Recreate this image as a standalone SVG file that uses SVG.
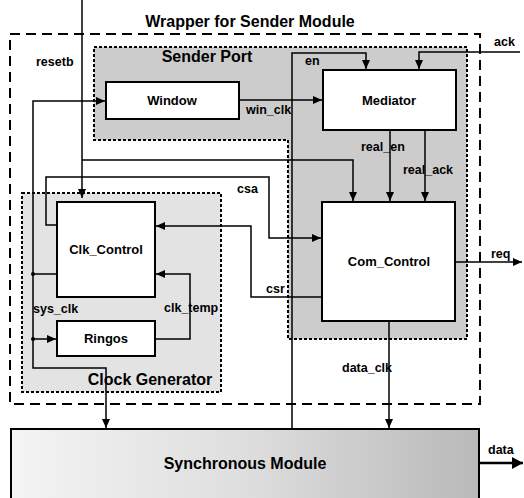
<svg xmlns="http://www.w3.org/2000/svg" width="524" height="498" viewBox="0 0 524 498">
<defs>
<marker id="ah" markerUnits="userSpaceOnUse" markerWidth="10" markerHeight="9" refX="9" refY="4" orient="auto">
<path d="M0,0 L9,4 L0,8 z" fill="#000"/>
</marker>
<marker id="ahb" markerUnits="userSpaceOnUse" markerWidth="13" markerHeight="13" refX="11" refY="6" orient="auto">
<path d="M0,0 L11,6 L0,12 z" fill="#000"/>
</marker>
<linearGradient id="sg" x1="0" y1="0" x2="1" y2="0">
<stop offset="0" stop-color="#f4f4f4"/>
<stop offset="0.5" stop-color="#dedede"/>
<stop offset="1" stop-color="#b9b9b9"/>
</linearGradient>
<style>
text{font-family:"Liberation Sans",Arial,sans-serif;fill:#000}
.title{font-size:16px;font-weight:bold}
.box{fill:#fff;stroke:#000;stroke-width:2}
.bl{font-size:13px;font-weight:bold;text-anchor:middle}
.sl{font-size:12.5px;font-weight:bold}
.region{stroke:#000;stroke-width:2;stroke-dasharray:3 2}
.wire{fill:none;stroke:#000;stroke-width:1.5}
</style>
</defs>

<g id="wrapper">
<rect x="10" y="34" width="470" height="370" fill="none" stroke="#000" stroke-width="2" stroke-dasharray="10 6"/>
<text class="title" x="250" y="27" text-anchor="middle">Wrapper for Sender Module</text>
</g>

<g id="sender-port">
<polygon class="region" points="94,47 467,47 467,339 288,339 288,140 94,140" fill="#cccccc"/>
<text class="title" x="207" y="62" text-anchor="middle">Sender Port</text>
</g>

<g id="clock-generator">
<rect class="region" x="22" y="193" width="199" height="199" fill="#e3e3e3"/>
<text class="title" x="150" y="385" text-anchor="middle">Clock Generator</text>
</g>

<g id="synchronous-module">
<rect x="11" y="429" width="468" height="75" fill="url(#sg)" stroke="#000" stroke-width="2"/>
<text class="title" x="245" y="469" text-anchor="middle">Synchronous Module</text>
</g>

<g id="window">
<rect class="box" x="106" y="82" width="133" height="37"/>
<text class="bl" x="172" y="105">Window</text>
</g>

<g id="mediator">
<rect class="box" x="323" y="70" width="133" height="60"/>
<text class="bl" x="389" y="105">Mediator</text>
</g>

<g id="com-control">
<rect class="box" x="322" y="202" width="133" height="119"/>
<text class="bl" x="389" y="266">Com_Control</text>
</g>

<g id="clk-control">
<rect class="box" x="57" y="202" width="98" height="95"/>
<text class="bl" x="106" y="254">Clk_Control</text>
</g>

<g id="ringos">
<rect class="box" x="57" y="321" width="98" height="35"/>
<text class="bl" x="106" y="343">Ringos</text>
</g>

<g id="connectors">
<path class="wire" d="M82,0 V198" marker-end="url(#ah)"/>
<path class="wire" d="M82,160 H353 V201" marker-end="url(#ah)"/>
<path class="wire" d="M57,274 H33 V101 H105" marker-end="url(#ah)"/>
<path class="wire" d="M33,274 V368 H106 V428" marker-end="url(#ah)"/>
<path class="wire" d="M33,339 H56" marker-end="url(#ah)"/>
<circle cx="33" cy="274" r="2" fill="#000"/>
<circle cx="33" cy="339" r="2" fill="#000"/>
<path class="wire" d="M57,225 H46 V177 H269 V238 H321" marker-end="url(#ah)"/>
<path class="wire" d="M322,297 H251 V226 H156" marker-end="url(#ah)"/>
<path class="wire" d="M239,100 H322" marker-end="url(#ah)"/>
<path class="wire" d="M292,429 V53 H366 V69" marker-end="url(#ah)"/>
<path class="wire" d="M520,52 H419 V69" marker-end="url(#ah)"/>
<path class="wire" d="M390,130 V201" marker-end="url(#ah)"/>
<path class="wire" d="M425,130 V201" marker-end="url(#ah)"/>
<path class="wire" d="M155,339 H190 V274 H156" marker-end="url(#ah)"/>
<path class="wire" d="M455,262 H522" marker-end="url(#ah)"/>
<path class="wire" d="M389,321 V428" marker-end="url(#ah)"/>
<path fill="none" stroke="#000" stroke-width="2.5" d="M479,463 H523" marker-end="url(#ahb)"/>

<text class="sl" x="36" y="66">resetb</text>
<text class="sl" x="33" y="313">sys_clk</text>
<text class="sl" x="237" y="193">csa</text>
<text class="sl" x="266" y="293">csr</text>
<text class="sl" x="246" y="114">win_clk</text>
<text class="sl" x="305" y="65">en</text>
<text class="sl" x="494" y="46">ack</text>
<text class="sl" x="361" y="151">real_en</text>
<text class="sl" x="403" y="174">real_ack</text>
<text class="sl" x="164" y="312">clk_temp</text>
<text class="sl" x="491" y="258">req</text>
<text class="sl" x="342" y="372">data_clk</text>
<text class="sl" x="488" y="454">data</text>
</g>
</svg>
